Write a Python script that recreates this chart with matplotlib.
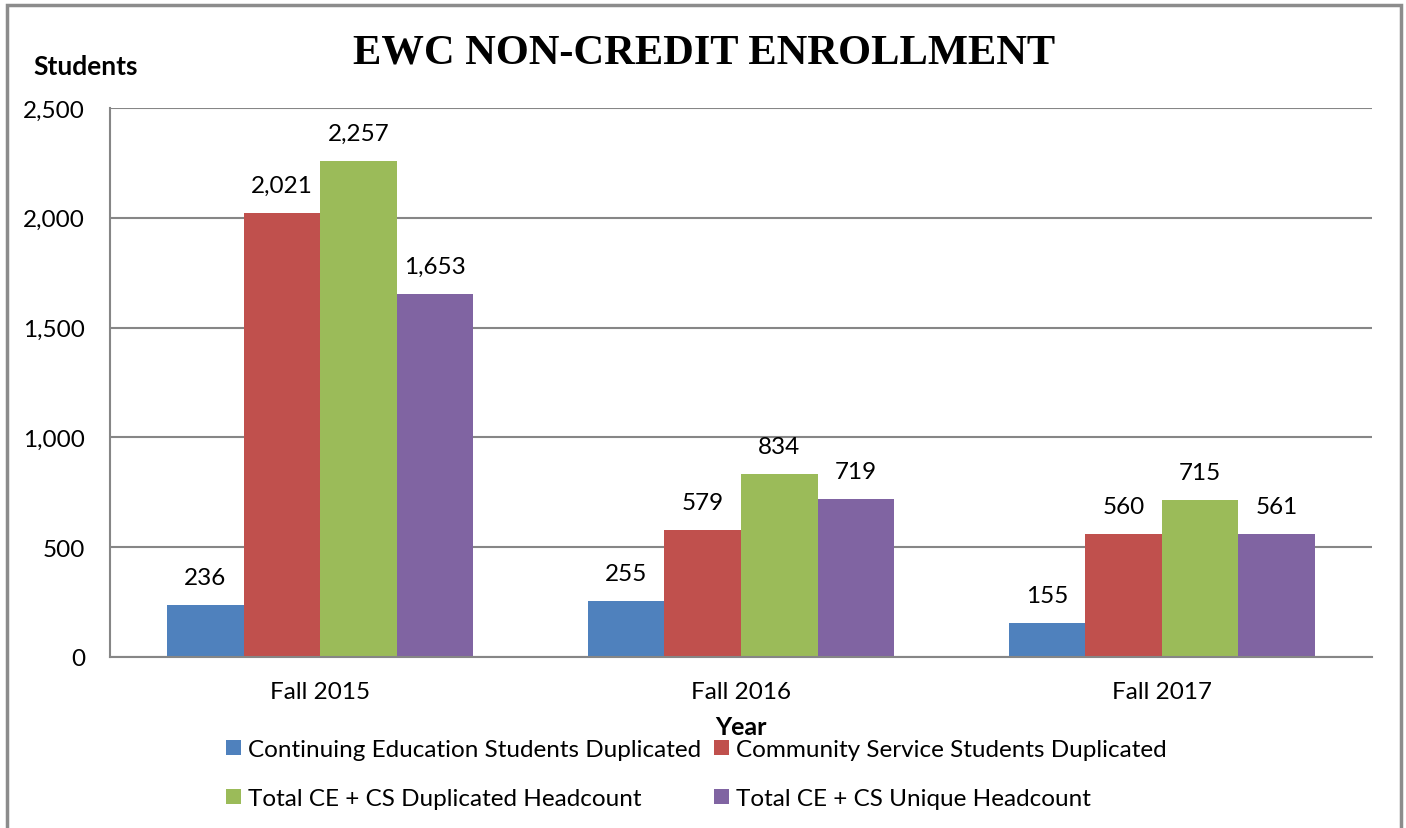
import matplotlib
matplotlib.use("Agg")
import matplotlib.pyplot as plt
import matplotlib.patches as mpatches
import numpy as np

categories = ["Fall 2015", "Fall 2016", "Fall 2017"]
series_names = ["Continuing Education Students Duplicated",
                "Community Service Students Duplicated",
                "Total CE + CS Duplicated Headcount",
                "Total CE + CS Unique Headcount"]
ce_dup = [236, 255, 155]
cs_dup = [2021, 579, 560]
total_dup = [2257, 834, 715]
total_unique = [1653, 719, 561]
colors = ["#4F81BD", "#C0504D", "#9BBB59", "#8064A2"]
yticks = [0, 500, 1000, 1500, 2000, 2500]

FONT = "Lato"
plt.rcParams['font.family'] = [FONT, 'DejaVu Sans']
FS = 17.5

fig = plt.figure(figsize=(14.06, 8.29), dpi=100)
W, H = 1406, 829
ax = fig.add_axes([110 / W, 1 - 658 / H, (1372 - 110) / W, (658 - 109) / H])

x = np.arange(len(categories))
bw = 0.182
series = [ce_dup, cs_dup, total_dup, total_unique]
bars = []
for i, (vals, c, name) in enumerate(zip(series, colors, series_names)):
    b = ax.bar(x + (i - 1.5) * bw, vals, width=bw, color=c, label=name, zorder=3)
    bars.append(b)
    for xi, v in zip(x + (i - 1.5) * bw, vals):
        ax.annotate(f"{v:,}", (xi, v), xytext=(0, 20), textcoords="offset points",
                    ha="center", va="center", fontsize=FS)

ax.set_xlim(-0.5, 2.5)
ax.set_ylim(0, 2500)
ax.set_yticks(yticks)
ax.set_yticklabels([f"{v:,}" for v in yticks])
ax.set_xticks(x)
ax.set_xticklabels(categories)
ax.tick_params(axis="y", length=0, pad=18, labelsize=FS)
ax.tick_params(axis="x", length=0, pad=17, labelsize=FS)
ax.grid(axis="y", color="#868686", linewidth=1.5, zorder=0)
for s in ["top", "right"]:
    ax.spines[s].set_visible(False)
for s in ["left", "bottom"]:
    ax.spines[s].set_color("#868686")
    ax.spines[s].set_linewidth(1.5)
    ax.spines[s].set_zorder(4)

ax.set_xlabel("Year", fontsize=18, fontweight="bold", labelpad=0)
ax.xaxis.set_label_coords(0.5, -0.127)
ax.xaxis.label.set_va("center")
fig.text(33 / W, 1 - 67 / H, "Students", fontsize=19, fontweight="bold",
         ha="left", va="center")
fig.text(704 / W, 1 - 54 / H, "EWC NON-CREDIT ENROLLMENT", fontsize=30.6,
         fontweight="bold", family="Liberation Serif", ha="center", va="center")

order = [0, 2, 1, 3]
leg = fig.legend([bars[i] for i in order], [series_names[i] for i in order],
                 ncol=2, loc="upper left", bbox_to_anchor=(226 / W, 1 - 740 / H),
                 frameon=False, fontsize=FS, handlelength=0.6, handleheight=0.6,
                 handletextpad=0.3, columnspacing=0.55, labelspacing=1.15,
                 borderaxespad=0, borderpad=0)

border = mpatches.Rectangle((7 / W, -0.1), (1401 - 7) / W, 1.1 - 6 / H,
                            transform=fig.transFigure, fill=False,
                            edgecolor="#8c8c8c", linewidth=2.5, clip_on=False)
fig.add_artist(border)

fig.savefig("out.png", dpi=100, facecolor="white")
